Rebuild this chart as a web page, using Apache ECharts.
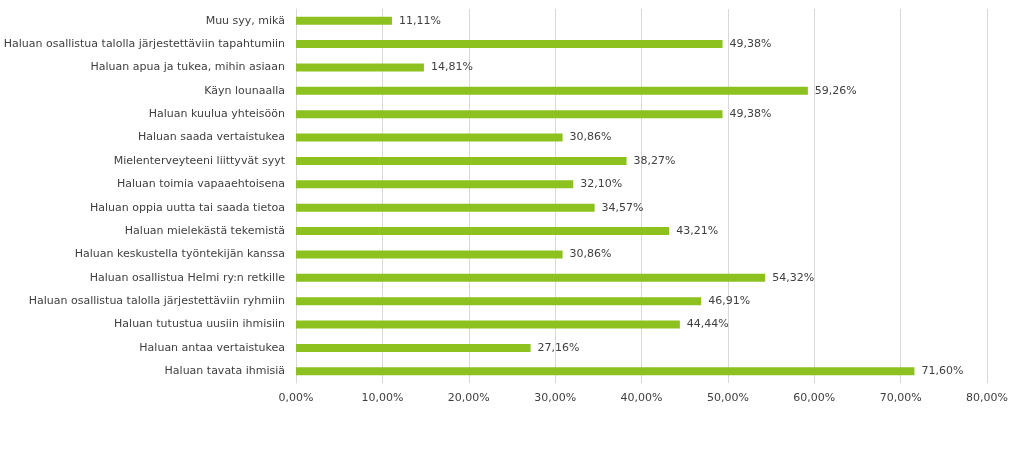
<!DOCTYPE html>
<html><head><meta charset="utf-8">
<script src="https://cdn.jsdelivr.net/npm/echarts@6/dist/echarts.min.js"></script>
<style>html,body{margin:0;padding:0;background:#fff}#c{width:1023px;height:450px}</style>
</head><body><div id="c"></div>
<script>
const categories = [
  "Haluan tavata ihmisiä",
  "Haluan antaa vertaistukea",
  "Haluan tutustua uusiin ihmisiin",
  "Haluan osallistua talolla järjestettäviin ryhmiin",
  "Haluan osallistua Helmi ry:n retkille",
  "Haluan keskustella työntekijän kanssa",
  "Haluan mielekästä tekemistä",
  "Haluan oppia uutta tai saada tietoa",
  "Haluan toimia vapaaehtoisena",
  "Mielenterveyteeni liittyvät syyt",
  "Haluan saada vertaistukea",
  "Haluan kuulua yhteisöön",
  "Käyn lounaalla",
  "Haluan apua ja tukea, mihin asiaan",
  "Haluan osallistua talolla järjestettäviin tapahtumiin",
  "Muu syy, mikä"
];
const values = [71.60, 27.16, 44.44, 46.91, 54.32, 30.86, 43.21, 34.57, 32.10, 38.27, 30.86, 49.38, 59.26, 14.81, 49.38, 11.11];
const xMin = 0, xMax = 80, xStep = 10;

const fmt = v => v.toFixed(2).replace('.', ',') + '%';
const FONT = '"DejaVu Sans", sans-serif';
const chart = echarts.init(document.getElementById('c'), null, {renderer: 'canvas'});
chart.setOption({
  animation: false,
  backgroundColor: '#ffffff',
  grid: {left: 296, right: 36, top: 9, bottom: 67, containLabel: false},
  xAxis: {
    type: 'value', min: xMin, max: xMax, interval: xStep,
    axisLine: {show: false}, axisTick: {show: false},
    splitLine: {show: true, lineStyle: {color: '#d9d9d9', width: 1}},
    axisLabel: {formatter: fmt, color: '#404040', fontFamily: FONT, fontSize: 11, margin: 10}
  },
  yAxis: {
    type: 'category', data: categories,
    axisLine: {show: true, lineStyle: {color: '#d9d9d9'}}, axisTick: {show: false},
    axisLabel: {color: '#404040', fontFamily: FONT, fontSize: 11, margin: 11}
  },
  series: [{
    type: 'bar', data: values, barWidth: 8,
    itemStyle: {color: '#8cc11f'},
    label: {show: true, position: 'right', distance: 7, formatter: p => fmt(p.value),
      color: '#404040', fontFamily: FONT, fontSize: 11}
  }]
});
</script></body></html>
